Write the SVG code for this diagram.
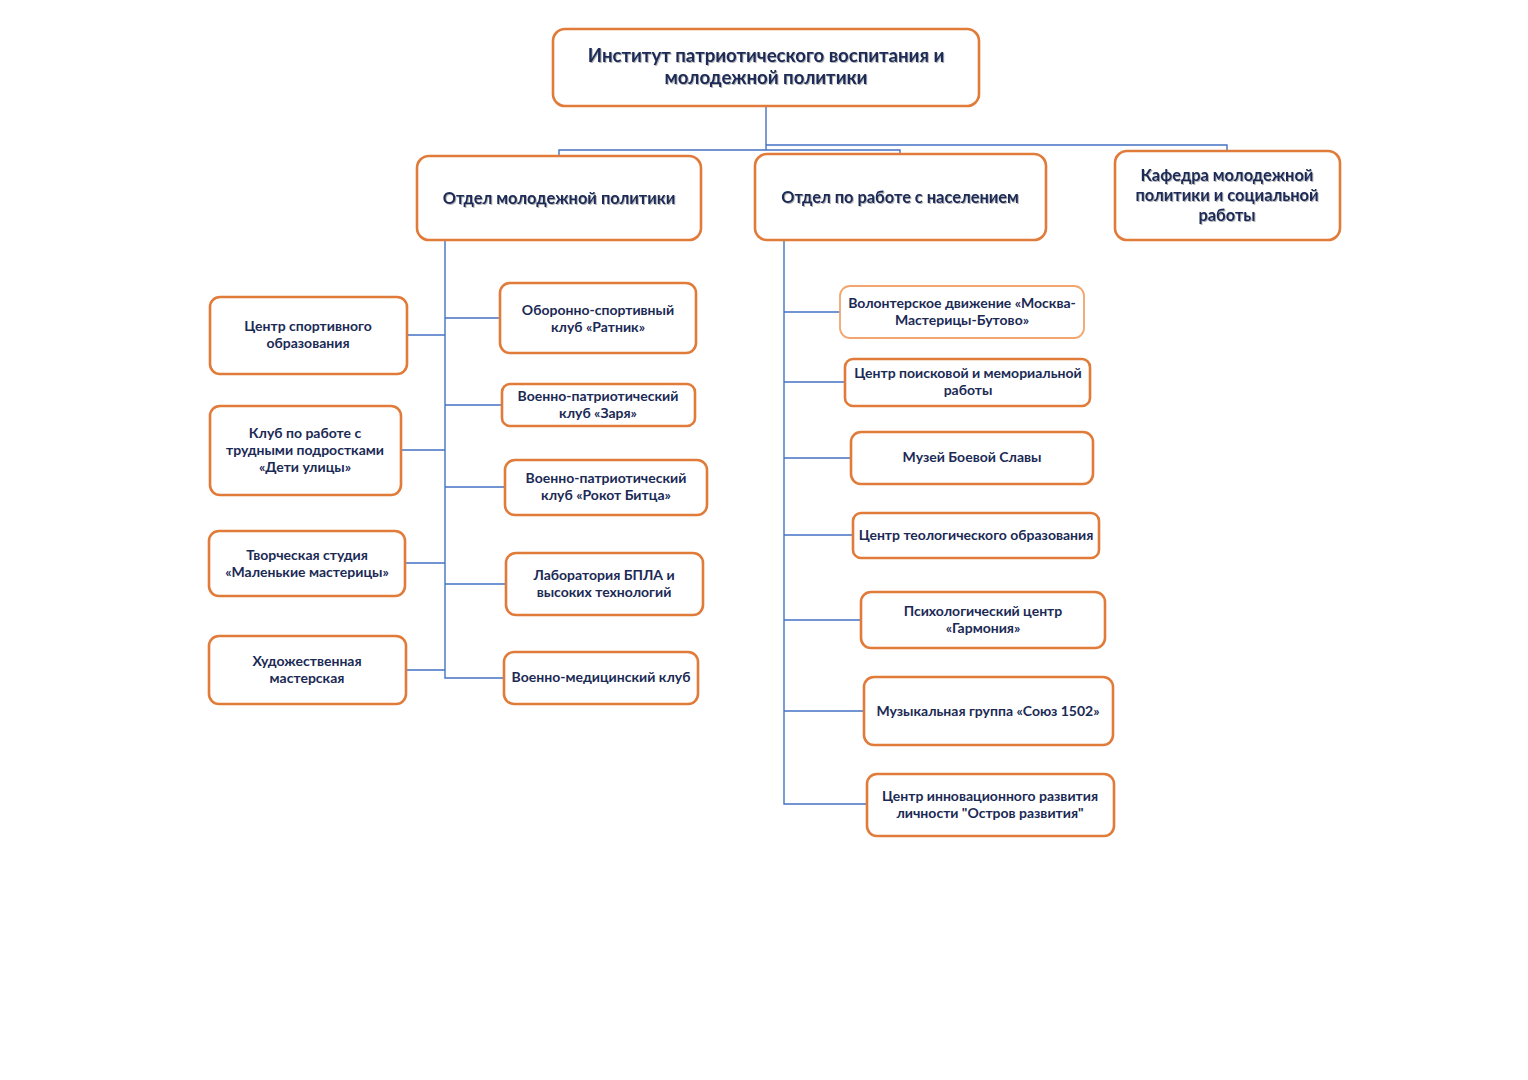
<svg xmlns="http://www.w3.org/2000/svg" width="1528" height="1080" viewBox="0 0 1528 1080">
<defs>
<filter id="sh" x="-5%" y="-20%" width="110%" height="140%">
<feDropShadow dx="1" dy="1" stdDeviation="0.6" flood-color="#000" flood-opacity="0.3"/>
</filter>
</defs>
<style>
.box{fill:#fff;stroke:#E07B39;stroke-width:2.6}
.lbox{fill:#fff;stroke:#F0A66E;stroke-width:1.8}
.t{font-family:Lato,"Open Sans","Liberation Sans",sans-serif;font-weight:bold;fill:#1B2A55;text-anchor:middle;font-size:14px}
.th{font-size:18.6px}
.td{font-size:16.4px}
.ln{fill:none;stroke:#4472C4;stroke-width:1.4}
</style>
<rect width="1528" height="1080" fill="#fff"/>
<g id="connectors">
<path class="ln" d="M766,106 V150 M559,156 V150 H900 V154 M766,145 H1227 V151"/>
<path class="ln" d="M445,240 V678 H504 M445,318 H500 M445,405 H502 M445,487 H505 M445,584 H506 M408,335 H445 M402,450 H445 M406,563 H445 M407,670 H445"/>
<path class="ln" d="M784,240 V804 H867 M784,312 H840 M784,382 H845 M784,458 H851 M784,535 H853 M784,620 H861 M784,711 H864"/>
</g>
<g id="root"><rect class="box" x="553" y="29" width="426" height="77" rx="12"/>
<text class="t th" x="766" filter="url(#sh)"><tspan x="766" y="62">Институт патриотического воспитания и</tspan><tspan x="766" y="84">молодежной политики</tspan></text></g>
<g id="dept1"><rect class="box" x="417" y="156" width="284" height="84" rx="12"/>
<text class="t td" x="559" y="204" filter="url(#sh)">Отдел молодежной политики</text></g>
<g id="dept2"><rect class="box" x="755" y="154" width="291" height="86" rx="12"/>
<text class="t td" x="900" y="203" filter="url(#sh)">Отдел по работе с населением</text></g>
<g id="dept3"><rect class="box" x="1115" y="151" width="225" height="89" rx="12"/>
<text class="t td" filter="url(#sh)"><tspan x="1227" y="181">Кафедра молодежной</tspan><tspan x="1227" y="201">политики и социальной</tspan><tspan x="1227" y="221">работы</tspan></text></g>

<g id="n1"><rect class="box" x="210" y="297" width="197" height="77" rx="10"/>
<text class="t"><tspan x="308" y="331">Центр спортивного</tspan><tspan x="308" y="348">образования</tspan></text></g>
<g id="n2"><rect class="box" x="210" y="406" width="191" height="89" rx="10"/>
<text class="t"><tspan x="305" y="438">Клуб по работе с</tspan><tspan x="305" y="455">трудными подростками</tspan><tspan x="305" y="472">«Дети улицы»</tspan></text></g>
<g id="n3"><rect class="box" x="209" y="531" width="196" height="65" rx="10"/>
<text class="t"><tspan x="307" y="560">Творческая студия</tspan><tspan x="307" y="577">«Маленькие мастерицы»</tspan></text></g>
<g id="n4"><rect class="box" x="209" y="636" width="197" height="68" rx="10"/>
<text class="t"><tspan x="307" y="666">Художественная</tspan><tspan x="307" y="683">мастерская</tspan></text></g>

<g id="n5"><rect class="box" x="500" y="283" width="196" height="70" rx="10"/>
<text class="t"><tspan x="598" y="315">Оборонно-спортивный</tspan><tspan x="598" y="332">клуб «Ратник»</tspan></text></g>
<g id="n6"><rect class="box" x="502" y="384" width="193" height="42" rx="8"/>
<text class="t"><tspan x="598" y="401">Военно-патриотический</tspan><tspan x="598" y="418">клуб «Заря»</tspan></text></g>
<g id="n7"><rect class="box" x="505" y="460" width="202" height="55" rx="10"/>
<text class="t"><tspan x="606" y="483">Военно-патриотический</tspan><tspan x="606" y="500">клуб «Рокот Битца»</tspan></text></g>
<g id="n8"><rect class="box" x="506" y="553" width="197" height="62" rx="10"/>
<text class="t"><tspan x="604" y="580">Лаборатория БПЛА и</tspan><tspan x="604" y="597">высоких технологий</tspan></text></g>
<g id="n9"><rect class="box" x="504" y="652" width="194" height="52" rx="10"/>
<text class="t" x="601" y="682">Военно-медицинский клуб</text></g>

<g id="n10"><rect class="lbox" x="840" y="286" width="244" height="52" rx="10"/>
<text class="t"><tspan x="962" y="308">Волонтерское движение «Москва-</tspan><tspan x="962" y="325">Мастерицы-Бутово»</tspan></text></g>
<g id="n11"><rect class="box" x="845" y="359" width="245" height="47" rx="8"/>
<text class="t"><tspan x="968" y="378">Центр поисковой и мемориальной</tspan><tspan x="968" y="395">работы</tspan></text></g>
<g id="n12"><rect class="box" x="851" y="432" width="242" height="52" rx="10"/>
<text class="t" x="972" y="462">Музей Боевой Славы</text></g>
<g id="n13"><rect class="box" x="853" y="513" width="246" height="45" rx="8"/>
<text class="t" x="976" y="540">Центр теологического образования</text></g>
<g id="n14"><rect class="box" x="861" y="592" width="244" height="56" rx="10"/>
<text class="t"><tspan x="983" y="616">Психологический центр</tspan><tspan x="983" y="633">«Гармония»</tspan></text></g>
<g id="n15"><rect class="box" x="864" y="677" width="249" height="68" rx="10"/>
<text class="t" x="988" y="716">Музыкальная группа «Союз 1502»</text></g>
<g id="n16"><rect class="box" x="867" y="774" width="247" height="62" rx="10"/>
<text class="t"><tspan x="990" y="801">Центр инновационного развития</tspan><tspan x="990" y="818">личности "Остров развития"</tspan></text></g>
</svg>
